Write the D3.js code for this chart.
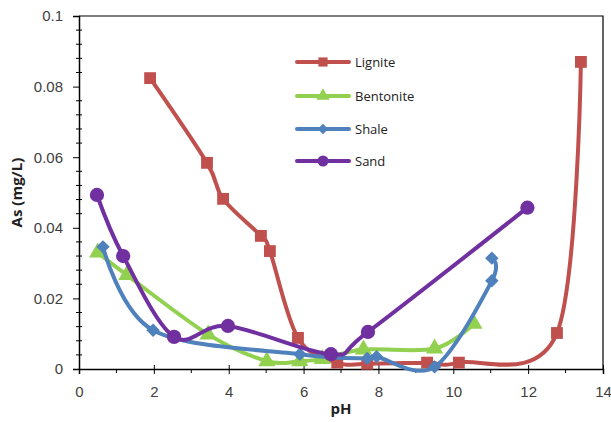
<!DOCTYPE html>
<html><head><meta charset="utf-8">
<script src="https://cdn.jsdelivr.net/npm/d3@7"></script>
<style>body{margin:0;background:#fff;} svg{display:block;font-family:"Open Sans",sans-serif;}</style>
</head><body>
<svg id="c" width="611" height="422"></svg>
<script>
const seriesNames = ["Lignite","Bentonite","Shale","Sand"];
const ligniteX = [1.9,3.42,3.85,4.86,5.1,5.85,6.9,7.7,9.3,10.15,12.77,13.41];
const ligniteY = [0.0824,0.0584,0.0482,0.0377,0.0334,0.0088,0.0018,0.0015,0.0018,0.0018,0.0102,0.087];
const bentoniteX = [0.5,1.28,3.45,5.02,5.9,6.5,7.6,9.5,10.55];
const bentoniteY = [0.033,0.0266,0.0098,0.0022,0.0022,0.0028,0.0055,0.0058,0.0128];
const shaleX = [0.64,1.98,5.9,7.7,7.95,9.5,11.03,11.03];
const shaleY = [0.0346,0.011,0.0042,0.003,0.0035,0.0006,0.025,0.0314];
const sandX = [0.48,1.18,2.54,3.98,6.73,7.72,11.98];
const sandY = [0.0493,0.032,0.0091,0.0122,0.0042,0.0105,0.0457];
const xTicks = [0,2,4,6,8,10,12,14];
const yTicks = [0,0.02,0.04,0.06,0.08,0.1];
const colors = ["#C0504D","#92D050","#4F81BD","#7030A0"];
const symbols = [d3.symbolSquare, d3.symbolTriangle, d3.symbolSquare, d3.symbolCircle];
const symRot = [0,0,45,0];
const symSizes = [140,130,90,160];

const svg = d3.select("#c");
const L=79,R=603,T=16,B=369;
const x = d3.scaleLinear().domain([0,14]).range([L,R]);
const y = d3.scaleLinear().domain([0,0.1]).range([B,T]);

// frame
svg.append("path").attr("d",`M${L},${T}H${R}V${B}`).attr("fill","none").attr("stroke","#000").attr("stroke-width",1.2);

// y axis
const yAx = svg.append("g").attr("transform",`translate(${L},0)`)
  .call(d3.axisLeft(y).tickValues(yTicks).tickFormat(d=>d3.format("~g")(d)).tickSize(6).tickPadding(10));
yAx.select(".domain").attr("stroke","#000").attr("stroke-width",1.5);
yAx.selectAll("text").attr("font-size",15).attr("fill","#404040");
const yMinor = d3.range(0,0.1001,0.004).filter(v=>Math.abs(v/0.02-Math.round(v/0.02))>1e-6);
svg.append("g").selectAll("line").data(yMinor).join("line")
  .attr("x1",L-3).attr("x2",L+3).attr("y1",d=>y(d)).attr("y2",d=>y(d)).attr("stroke","#000");

// x axis
const xAx = svg.append("g").attr("transform",`translate(0,${B})`)
  .call(d3.axisBottom(x).tickValues(xTicks).tickSize(5).tickPadding(12));
xAx.select(".domain").attr("stroke","#000").attr("stroke-width",1.5);
xAx.selectAll(".tick line").attr("y1",-4);
xAx.selectAll("text").attr("font-size",15).attr("fill","#404040");
svg.append("g").selectAll("line").data([1,3,5,7,9,11,13]).join("line")
  .attr("x1",d=>x(d)).attr("x2",d=>x(d)).attr("y1",B).attr("y2",B+4).attr("stroke","#000");

// axis titles
svg.append("text").attr("x",x(7)).attr("y",414).attr("text-anchor","middle")
  .attr("font-size",15).attr("font-weight","bold").attr("fill","#222").text("pH");
svg.append("text").attr("transform",`translate(22,${(T+B)/2}) rotate(-90)`).attr("text-anchor","middle")
  .attr("font-size",15).attr("font-weight","bold").attr("fill","#222").text("As (mg/L)");

const data = [[ligniteX,ligniteY],[bentoniteX,bentoniteY],[shaleX,shaleY],[sandX,sandY]];
const line = d3.line().x(d=>x(d[0])).y(d=>y(d[1])).curve(d3.curveCardinal.tension(0));
data.forEach((s,i)=>{
  const pts = s[0].map((v,j)=>[v,s[1][j]]);
  const g = svg.append("g");
  g.append("path").datum(pts).attr("d",line).attr("fill","none").attr("stroke",colors[i]).attr("stroke-width",4).attr("stroke-linejoin","round");
  g.selectAll("path.m").data(pts).join("path").attr("class","m")
    .attr("transform",d=>`translate(${x(d[0])},${y(d[1])}) rotate(${symRot[i]})`)
    .attr("d",d3.symbol().type(symbols[i]).size(symSizes[i])).attr("fill",colors[i]);
});

// legend
const legY = [62,96,129,161];
seriesNames.forEach((n,i)=>{
  const g = svg.append("g").attr("transform",`translate(0,${legY[i]})`);
  g.append("line").attr("x1",297).attr("x2",349).attr("stroke",colors[i]).attr("stroke-width",4).attr("stroke-linecap","round");
  g.append("path").attr("transform",`translate(323,0) rotate(${symRot[i]})`).attr("d",d3.symbol().type(symbols[i]).size(symSizes[i]*0.6)).attr("fill",colors[i]);
  g.append("text").attr("x",355).attr("y",5).attr("font-size",13).attr("fill","#222").text(n);
});
</script>
</body></html>
